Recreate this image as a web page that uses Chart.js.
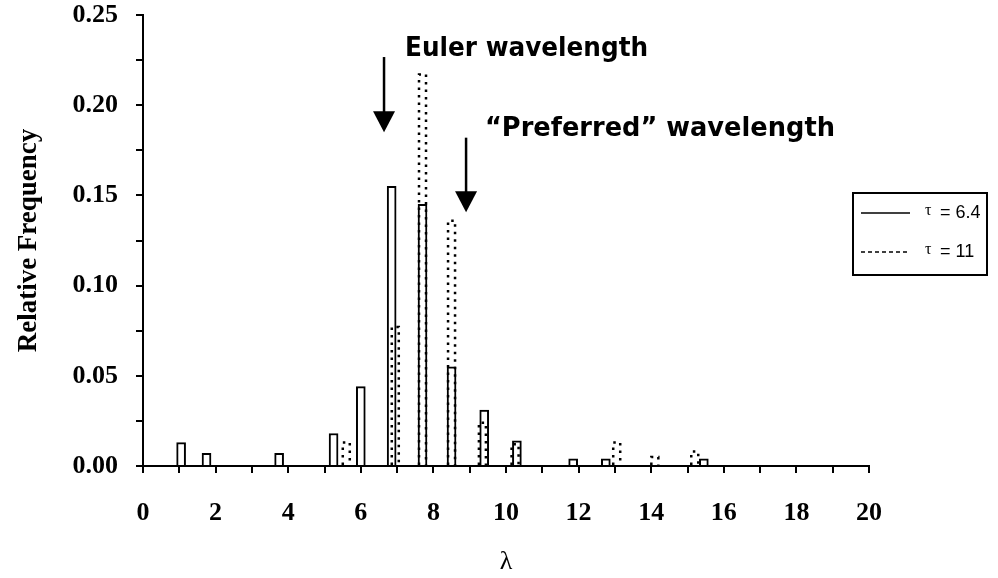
<!DOCTYPE html>
<html lang="en">
<head>
<meta charset="UTF-8">
<title>Relative Frequency - wavelength</title>
<script src="https://cdn.jsdelivr.net/npm/chart.js"></script>
<style>
    html, body { margin: 0; padding: 0; background: #fff; }
</style>
</head>
<body>
<canvas id="myChart" width="998" height="578"></canvas>
<script>
    // valores (lambda, frequencia relativa)
    var seriesLabels = ['\u03C4 = 6.4', '\u03C4 = 11'];
    var lambda64 = [1.05, 1.75, 3.75, 5.25, 6.0, 6.85, 7.7, 8.5, 9.4, 10.3, 11.85, 12.75, 15.45];
    var freq64   = [0.013, 0.007, 0.007, 0.018, 0.044, 0.155, 0.145, 0.055, 0.031, 0.014, 0.004, 0.004, 0.004];
    var lambda11 = [5.6, 6.95, 7.7, 8.5, 9.35, 10.25, 13.05, 14.1, 15.2];
    var freq11   = [0.013, 0.077, 0.217, 0.136, 0.024, 0.012, 0.013, 0.005, 0.008];
    var xLabelled = [0, 2, 4, 6, 8, 10, 12, 14, 16, 18, 20];
    var yLabelled = ['0.00', '0.05', '0.10', '0.15', '0.20', '0.25'];

    // setas e textos (em coordenadas dos dados; w = largura do texto em px)
    var notes = [
        { text: 'Euler wavelength', x: 7.22, y: 0.2275, w: 243 },
        { text: '\u201CPreferred\u201D wavelength', x: 9.42, y: 0.1828, w: 350 }
    ];
    var arrows = [
        { x: 6.64, from: 0.2267, to: 0.185 },
        { x: 8.9, from: 0.182, to: 0.1406 }
    ];

    function pontos(xs, ys) {
        return xs.map((x, i) => ({ x: x, y: ys[i] }));
    }

    // barras pontilhadas (tau = 11)
    const dottedBars = {
        id: 'dottedBars',
        afterDatasetsDraw(chart) {
            const ctx = chart.ctx;
            const meta = chart.getDatasetMeta(1);
            ctx.save();
            ctx.strokeStyle = '#000';
            ctx.lineWidth = 2.5;
            ctx.setLineDash([2.5, 5]);
            meta.data.forEach(bar => {
                const p = bar.getProps(['x', 'y', 'base', 'width'], true);
                const l = p.x - p.width / 2 + 1;
                const r = p.x + p.width / 2 - 1;
                ctx.beginPath();
                ctx.moveTo(l, p.base);
                ctx.lineTo(l, p.y);
                ctx.lineTo(r, p.y);
                ctx.lineTo(r, p.base);
                ctx.stroke();
            });
            ctx.restore();
        }
    };

    // textos, setas e legenda
    const extras = {
        id: 'extras',
        afterDraw(chart) {
            const ctx = chart.ctx;
            const xs = chart.scales.x, ys = chart.scales.y;
            ctx.save();
            ctx.fillStyle = '#000';
            ctx.strokeStyle = '#000';
            ctx.font = 'bold 26px "DejaVu Sans", Arial, sans-serif';
            ctx.textBaseline = 'alphabetic';
            ctx.textAlign = 'left';
            notes.forEach(n => {
                const sx = n.w / ctx.measureText(n.text).width;
                ctx.save();
                ctx.translate(xs.getPixelForValue(n.x), ys.getPixelForValue(n.y));
                ctx.scale(sx, 1);
                ctx.fillText(n.text, 0, 0);
                ctx.restore();
            });

            arrows.forEach(a => {
                const x = xs.getPixelForValue(a.x);
                const y1 = ys.getPixelForValue(a.from);
                const y2 = ys.getPixelForValue(a.to);
                ctx.lineWidth = 2.5;
                ctx.beginPath();
                ctx.moveTo(x, y1);
                ctx.lineTo(x, y2 - 16);
                ctx.stroke();
                ctx.beginPath();
                ctx.moveTo(x - 11, y2 - 21);
                ctx.lineTo(x + 11, y2 - 21);
                ctx.lineTo(x, y2);
                ctx.closePath();
                ctx.fill();
            });

            // legenda
            ctx.lineWidth = 2;
            ctx.strokeRect(853, 193, 134, 82);
            ctx.textBaseline = 'middle';
            const rows = [213, 252];
            rows.forEach((y, i) => {
                ctx.beginPath();
                ctx.lineWidth = 1.5;
                ctx.setLineDash(i === 0 ? [] : [4, 3]);
                ctx.moveTo(861, y);
                ctx.lineTo(910, y);
                ctx.stroke();
                ctx.setLineDash([]);
                const parts = chart.data.datasets[i].label.split('=');
                ctx.font = '16px "Liberation Serif", serif';
                ctx.fillText(parts[0].trim(), 925, y - 2);
                ctx.font = '18px "Liberation Sans", Arial, sans-serif';
                ctx.fillText('=' + parts[1], 940, y);
            });
            ctx.restore();
        }
    };

    const data = {
        datasets: [{
            label: seriesLabels[0],
            data: pontos(lambda64, freq64),
            backgroundColor: '#fff',
            borderColor: '#000',
            borderWidth: 2,
            borderSkipped: 'bottom',
            barThickness: 9,
            grouped: false
        }, {
            label: seriesLabels[1],
            data: pontos(lambda11, freq11),
            backgroundColor: 'rgba(0,0,0,0)',
            borderWidth: 0,
            barThickness: 9,
            grouped: false
        }]
    };

    const tickFont = { family: '"Liberation Serif", "Times New Roman", serif', size: 26, weight: 'bold' };

    const config = {
        type: 'bar',
        data: data,
        options: {
            responsive: false,
            animation: false,
            devicePixelRatio: 1,
            layout: { padding: { left: 0, top: 15, right: 129, bottom: 0 } },
            plugins: {
                legend: { display: false },
                tooltip: { enabled: false }
            },
            scales: {
                x: {
                    type: 'linear',
                    min: 0,
                    max: 20,
                    offset: false,
                    grid: { offset: false, drawOnChartArea: false, color: '#000', lineWidth: 2, tickLength: 7 },
                    border: { display: true, color: '#000', width: 2 },
                    ticks: {
                        stepSize: 1,
                        autoSkip: false,
                        maxRotation: 0,
                        padding: 25,
                        color: '#000',
                        font: tickFont,
                        callback: function (v) {
                            return xLabelled.includes(v) ? String(v) : '';
                        }
                    },
                    title: {
                        display: true,
                        text: '\u03BB',
                        color: '#000',
                        padding: { top: 0, bottom: 0 },
                        font: { family: '"Liberation Serif", "Times New Roman", serif', size: 26 }
                    },
                    afterFit: function (s) { s.height = 112; }
                },
                y: {
                    min: 0,
                    max: 0.25,
                    grid: { drawOnChartArea: false, color: '#000', lineWidth: 2, tickLength: 7 },
                    border: { display: true, color: '#000', width: 2 },
                    ticks: {
                        stepSize: 0.025,
                        autoSkip: false,
                        padding: 18,
                        color: '#000',
                        font: tickFont,
                        callback: function (v) {
                            const s = v.toFixed(2);
                            return Math.round(v * 1000) % 50 === 0 && yLabelled.includes(s) ? s : '';
                        }
                    },
                    title: {
                        display: true,
                        text: 'Relative Frequency',
                        color: '#000',
                        padding: { top: 13, bottom: 0 },
                        font: { family: '"Liberation Serif", "Times New Roman", serif', size: 27, weight: 'bold' }
                    },
                    afterFit: function (s) {
                        s.width = 143;
                        s.paddingTop = 0;
                        s.paddingBottom = 0;
                    }
                }
            }
        },
        plugins: [dottedBars, extras]
    };

    new Chart(document.getElementById('myChart'), config);
</script>
</body>
</html>
